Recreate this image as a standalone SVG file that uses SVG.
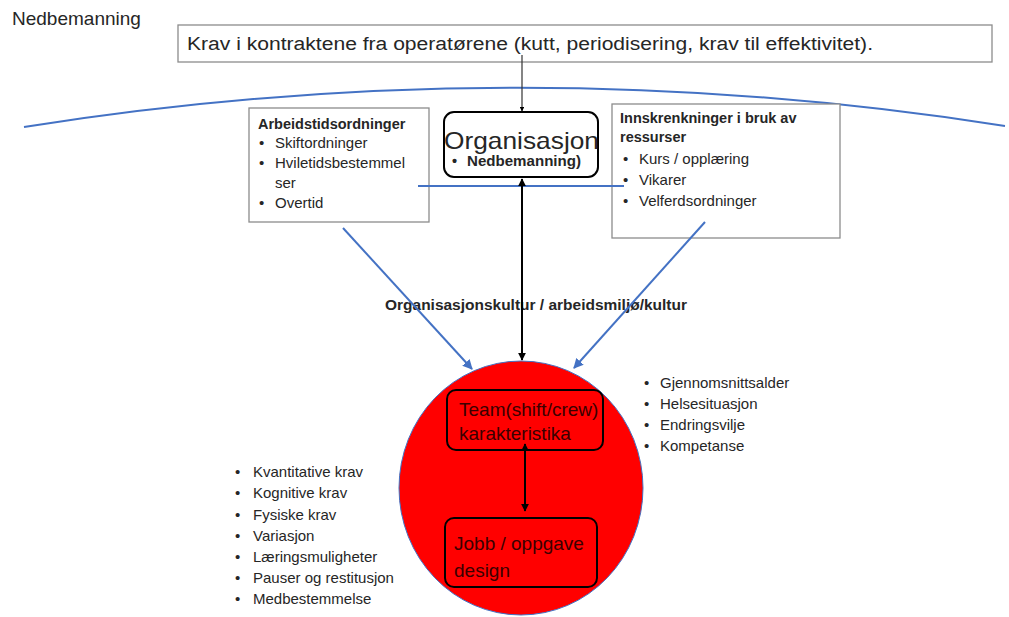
<svg xmlns="http://www.w3.org/2000/svg" width="1009" height="617" viewBox="0 0 1009 617">
  <style>
    text { font-family: "Liberation Sans", "Open Sans", Arial, sans-serif; fill: #262626; }
    .box { fill: #ffffff; stroke: #8c8c8c; stroke-width: 1.3; }
    .rbox { fill: none; stroke: #000000; stroke-width: 2; }
    .item { font-size: 15px; }
    .bold { font-size: 14.5px; font-weight: bold; }
    .inner { font-size: 19px; fill: #3a0000; }
    .blue { stroke: #4472C4; stroke-width: 2; fill: none; }
    .black { stroke: #000000; stroke-width: 2; fill: none; }
  </style>
  <defs>
    <marker id="ahBlack" viewBox="0 0 10 10" refX="9" refY="5" markerWidth="4" markerHeight="4" orient="auto-start-reverse">
      <path d="M0,0 L10,5 L0,10 z" fill="#000000"/>
    </marker>
    <marker id="ahBlue" viewBox="0 0 10 10" refX="9" refY="5" markerWidth="5" markerHeight="5" orient="auto">
      <path d="M0,0 L10,5 L0,10 z" fill="#4472C4"/>
    </marker>
  </defs>

  <rect width="1009" height="617" fill="#ffffff"/>

  <!-- heading -->
  <text x="12" y="25" font-size="19">Nedbemanning</text>

  <!-- contract demands -->
  <g id="krav">
    <rect class="box" x="178" y="25" width="814" height="37"/>
    <text x="187" y="50" font-size="18" textLength="686" lengthAdjust="spacingAndGlyphs">Krav i kontraktene fra operatørene (kutt, periodisering, krav til effektivitet).</text>
  </g>

  <!-- organisational boundary -->
  <path class="blue" d="M24,127 Q515,49 1005,126" stroke-width="3"/>

  <g id="arbeidstid">
    <rect class="box" x="249" y="108" width="180" height="114"/>
    <text x="258" y="129" class="bold">Arbeidstidsordninger</text>
    <text x="259" y="148" class="item">•</text><text x="275" y="148" class="item">Skiftordninger</text>
    <text x="259" y="168" class="item">•</text><text x="275" y="168" class="item">Hviletidsbestemmel</text>
    <text x="275" y="188" class="item">ser</text>
    <text x="259" y="208" class="item">•</text><text x="275" y="208" class="item">Overtid</text>
  </g>

  <g id="organisasjon">
    <rect x="444" y="112" width="154" height="65" rx="10" fill="#ffffff" stroke="#000" stroke-width="2"/>
    <text x="444" y="149" font-size="24" textLength="155" lengthAdjust="spacingAndGlyphs" fill="#000">Organisasjon</text>
    <text x="452" y="166" class="bold" font-size="14">•</text><text x="467" y="166" class="bold" font-size="14" textLength="114" lengthAdjust="spacingAndGlyphs">Nedbemanning)</text>
  </g>

  <g id="innskrenkninger">
    <rect class="box" x="612" y="104" width="228" height="134"/>
    <text x="620" y="123" class="bold">Innskrenkninger  i bruk av</text>
    <text x="620" y="142" class="bold">ressurser</text>
    <text x="623" y="164" class="item">•</text><text x="639" y="164" class="item">Kurs / opplæring</text>
    <text x="623" y="185" class="item">•</text><text x="639" y="185" class="item">Vikarer</text>
    <text x="623" y="206" class="item">•</text><text x="639" y="206" class="item">Velferdsordninger</text>
  </g>

  <text x="385" y="310" class="bold" textLength="302" lengthAdjust="spacingAndGlyphs">Organisasjonskultur  / arbeidsmiljø/kultur</text>

  <g id="team-sirkel">
    <ellipse cx="521" cy="488" rx="122" ry="127" fill="#FF0000" stroke="#4472C4" stroke-width="1"/>
  </g>

  <g id="team">
    <rect class="rbox" x="447" y="390" width="156" height="60" rx="9"/>
    <text x="459" y="416" class="inner">Team(shift/crew)</text>
    <text x="459" y="440" class="inner">karakteristika</text>
  </g>

  <g id="jobb">
    <rect class="rbox" x="445" y="518" width="152" height="69" rx="9"/>
    <text x="454" y="550" class="inner" font-size="21">Jobb / oppgave</text>
    <text x="454" y="577" class="inner" font-size="21">design</text>
  </g>

  <g id="jobbkrav">
    <text x="235" y="477" class="item">•</text><text x="253" y="477" class="item">Kvantitative krav</text>
    <text x="235" y="498" class="item">•</text><text x="253" y="498" class="item">Kognitive krav</text>
    <text x="235" y="520" class="item">•</text><text x="253" y="520" class="item">Fysiske krav</text>
    <text x="235" y="541" class="item">•</text><text x="253" y="541" class="item">Variasjon</text>
    <text x="235" y="562" class="item">•</text><text x="253" y="562" class="item">Læringsmuligheter</text>
    <text x="235" y="583" class="item">•</text><text x="253" y="583" class="item">Pauser og restitusjon</text>
    <text x="235" y="604" class="item">•</text><text x="253" y="604" class="item">Medbestemmelse</text>
  </g>

  <g id="teamtrekk">
    <text x="644" y="388" class="item">•</text><text x="660" y="388" class="item">Gjennomsnittsalder</text>
    <text x="644" y="409" class="item">•</text><text x="660" y="409" class="item">Helsesituasjon</text>
    <text x="644" y="430" class="item">•</text><text x="660" y="430" class="item">Endringsvilje</text>
    <text x="644" y="451" class="item">•</text><text x="660" y="451" class="item">Kompetanse</text>
  </g>

  <!-- connectors drawn above the boxes -->
  <g id="connectors">
    <line x1="522" y1="55" x2="522" y2="111" stroke="#333" stroke-width="1.2" marker-end="url(#ahBlack)"/>
    <line class="blue" x1="418" y1="186" x2="624" y2="186"/>
    <line class="black" x1="522" y1="179" x2="522" y2="360" marker-start="url(#ahBlack)" marker-end="url(#ahBlack)"/>
    <line class="blue" x1="343" y1="228" x2="472" y2="369" marker-end="url(#ahBlue)"/>
    <line class="blue" x1="705" y1="222" x2="574" y2="368" marker-end="url(#ahBlue)"/>
    <line class="black" x1="525" y1="444" x2="525" y2="511" marker-start="url(#ahBlack)" marker-end="url(#ahBlack)"/>
  </g>
</svg>
